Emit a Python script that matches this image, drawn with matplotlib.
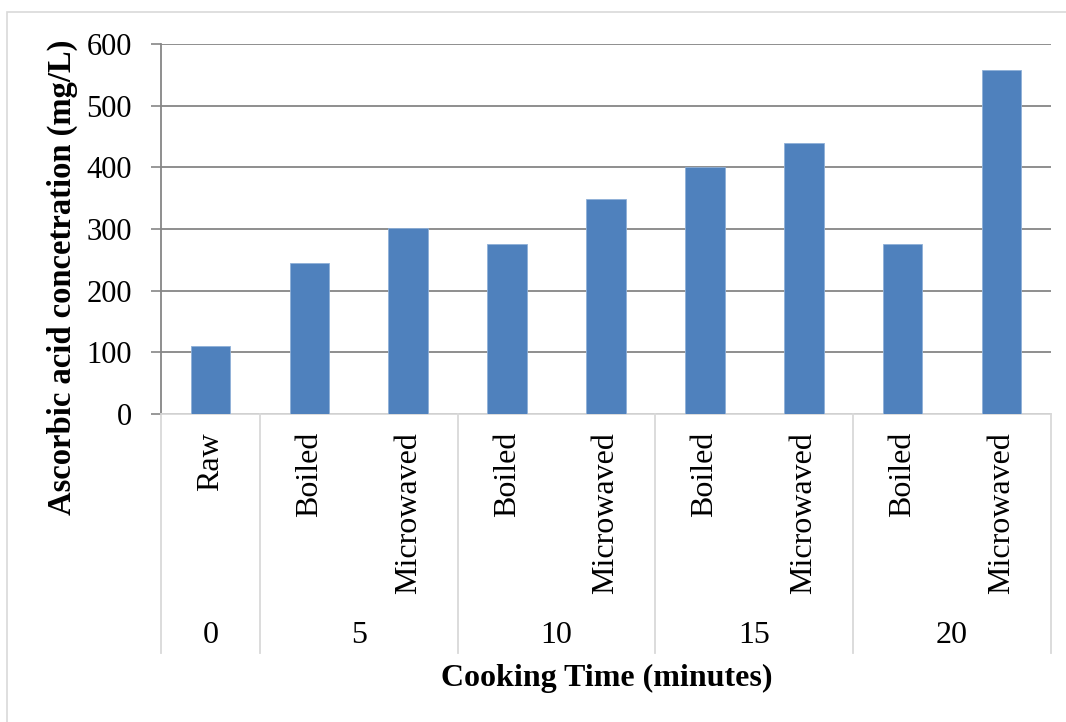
import numpy as np
import matplotlib
matplotlib.use("Agg")
import matplotlib.pyplot as plt
import matplotlib.transforms as mtransforms
from matplotlib.patches import Rectangle

plt.rcParams['font.family'] = ['Liberation Serif', 'DejaVu Serif']

# bar data, one bar per method within each cooking time
methods = ["Raw", "Boiled", "Microwaved", "Boiled", "Microwaved",
           "Boiled", "Microwaved", "Boiled", "Microwaved"]
times = ["0", "5", "10", "15", "20"]
group_sizes = [1, 2, 2, 2, 2]
concentration = [110, 245, 301, 276, 348, 400, 440, 276, 558]

W, H = 1066, 722
fig = plt.figure(figsize=(W / 100, H / 100), dpi=100)

# light frame around the chart
fig.patches.append(Rectangle((7 / W, -0.05), 1.1, (H - 12) / H + 0.05,
                             transform=fig.transFigure, fill=False,
                             edgecolor="#d9d9d9", linewidth=1.2))

ax = fig.add_axes([161 / W, (H - 414) / H, (1051 - 161) / W, 370 / H])

x = np.arange(len(concentration))
ax.bar(x, concentration, width=0.4, color="#4f81bd", edgecolor="#8fb0d8",
       linewidth=0.6, zorder=3)

ax.set_xlim(-0.5, len(concentration) - 0.5)
ax.set_ylim(0, 600)
ax.set_yticks(range(0, 601, 100))
ax.yaxis.grid(True, color="#868686", linewidth=1.3, zorder=0)
ax.tick_params(axis="y", labelsize=22, length=7, width=1.2, color="#868686",
               pad=14)

ax.set_xticks(x)
ax.set_xticklabels(methods, rotation=90, fontsize=23, va="top")
ax.tick_params(axis="x", length=0, pad=13)

for side in ["top", "right"]:
    ax.spines[side].set_visible(False)
ax.spines["left"].set_color("#868686")
ax.spines["left"].set_linewidth(1.3)
ax.spines["bottom"].set_color("#d9d9d9")
ax.spines["bottom"].set_linewidth(1.3)

# second level of the category axis: cooking time groups
trans = mtransforms.blended_transform_factory(ax.transData, ax.transAxes)
sep_bottom = -(653 - 414) / 370
edges = np.concatenate([[0], np.cumsum(group_sizes)]) - 0.5
for e in edges:
    ax.plot([e, e], [0, sep_bottom], transform=trans, color="#d9d9d9",
            linewidth=1.3, clip_on=False)
for t, a, b in zip(times, edges[:-1], edges[1:]):
    ax.text((a + b) / 2, -(636 - 414) / 370, t, transform=trans,
            ha="center", va="center", fontsize=23)

fig.text((443 + 771) / 2 / W, 1 - 678 / H, "Cooking Time (minutes)",
         ha="center", va="center", fontsize=23, fontweight="bold")
fig.text(62 / W, 1 - 277 / H, "Ascorbic acid concetration (mg/L)",
         ha="center", va="center", rotation=90, fontsize=23.5,
         fontweight="bold")

fig.savefig("out.png", dpi=100)
